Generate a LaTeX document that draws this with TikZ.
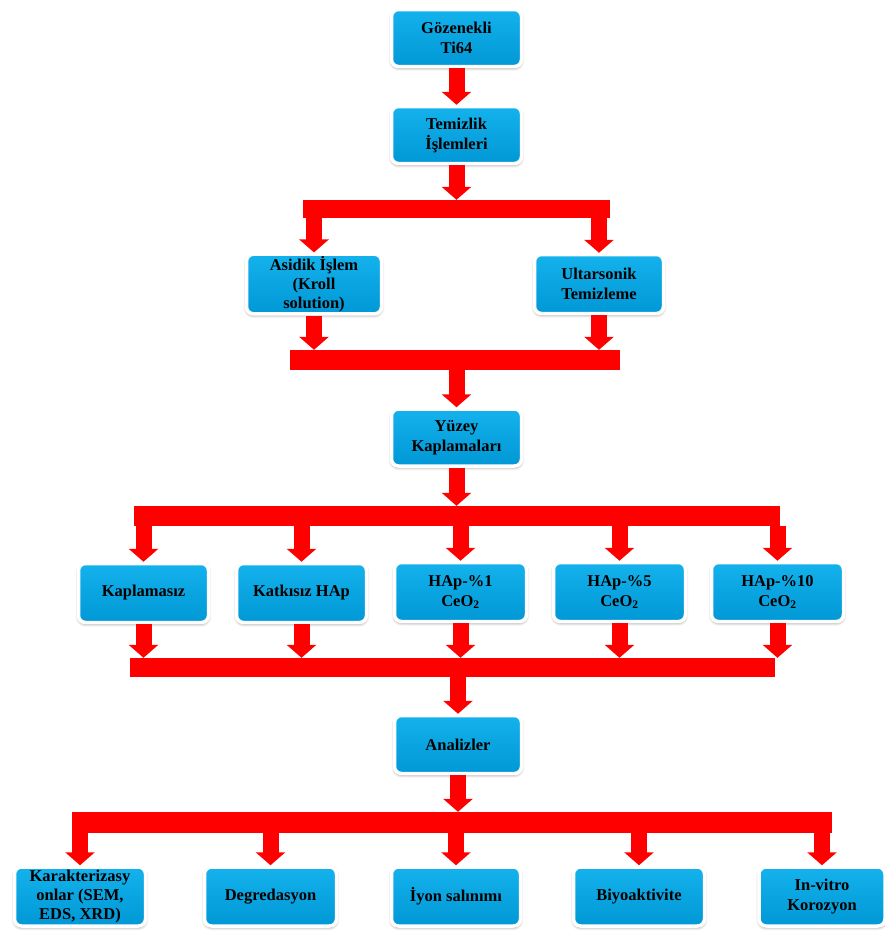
\documentclass[tikz,border=0pt]{standalone}
\usepackage{fontspec}
\setmainfont{Liberation Serif}
\usetikzlibrary{arrows.meta,shadows.blur}
\definecolor{boxtop}{RGB}{20,178,236}
\definecolor{boxbot}{RGB}{0,152,214}
\definecolor{barred}{RGB}{255,0,0}
\begin{document}
\begin{tikzpicture}[x=1pt,y=-1pt,
  box/.style={rectangle, rounded corners=7pt, draw=white, line width=3.5pt,
    top color=boxtop, bottom color=boxbot, align=center, inner sep=2pt,
    font=\bfseries\fontsize{16.5}{20}\selectfont, text=black,
    blur shadow={shadow blur steps=6, shadow xshift=0pt, shadow yshift=-1.5pt, shadow opacity=45, shadow blur radius=3pt},
    minimum height=57pt},
  bar/.style={rectangle, fill=barred, draw=none, inner sep=0pt},
  fat/.style={draw=barred, line width=16pt, line cap=butt,
    -{Triangle[width=29pt,length=13pt]}}
]
\useasboundingbox (0,0) rectangle (885,938);
% boxes
\node[box, minimum width=130pt] (g)   at (456.5,38)  {Gözenekli\\Ti64};
\node[box, minimum width=130pt] (t)   at (456.5,135) {Temizlik\\İşlemleri};
\node[box, minimum width=135pt, minimum height=59pt, font=\bfseries\fontsize{16.5}{19}\selectfont] (as)  at (314,284)   {Asidik İşlem\\(Kroll\\solution)};
\node[box, minimum width=129pt, minimum height=59pt] (ul)  at (599,284)   {Ultarsonik\\Temizleme};
\node[box, minimum width=130pt] (yz)  at (456.5,437.5) {Yüzey\\Kaplamaları};
\node[box, minimum width=130pt, minimum height=59pt] (kp)  at (143.5,593) {Kaplamasız};
\node[box, minimum width=130pt, minimum height=59pt] (kh)  at (301.5,593) {Katkısız HAp};
\node[box, minimum width=132pt, minimum height=59pt] (h1)  at (460.5,592) {HAp-\%1\\CeO\textsubscript{2}};
\node[box, minimum width=132pt, minimum height=59pt] (h5)  at (619.5,592) {HAp-\%5\\CeO\textsubscript{2}};
\node[box, minimum width=132pt, minimum height=59pt] (h10) at (777.5,592) {HAp-\%10\\CeO\textsubscript{2}};
\node[box, minimum width=127pt, minimum height=58pt] (an)  at (458,744.5) {Analizler};
\node[box, minimum width=131pt, minimum height=59pt, font=\bfseries\fontsize{16.5}{19}\selectfont] (ka)  at (80,896.5)  {Karakterizasy\\onlar (SEM,\\EDS, XRD)};
\node[box, minimum width=132pt, minimum height=59pt] (dg)  at (270.5,896.5) {Degredasyon};
\node[box, minimum width=129pt, minimum height=59pt] (iy)  at (456,896.5) {İyon salınımı};
\node[box, minimum width=131pt, minimum height=59pt] (bi)  at (639,896.5) {Biyoaktivite};
\node[box, minimum width=126pt, minimum height=59pt] (iv)  at (822,896.5) {In-vitro\\Korozyon};
% bars
\node[bar, minimum width=307pt, minimum height=18pt] (b1) at (456.5,209) {};
\node[bar, minimum width=330pt, minimum height=20pt] (b2) at (455,360) {};
\node[bar, minimum width=646pt, minimum height=20pt] (b3) at (457,516) {};
\node[bar, minimum width=645pt, minimum height=19pt] (b4) at (452.5,667.5) {};
\node[bar, minimum width=760pt, minimum height=21pt] (b5) at (452,822.5) {};
% connectors
\draw[fat] (g.south) -- (t.north);
\draw[fat] (t.south) -- (b1.north -| t.south);
\draw[fat] (b1.south -| as.north) -- (as.north);
\draw[fat] (b1.south -| ul.north) -- (ul.north);
\draw[fat] (as.south) -- (b2.north -| as.south);
\draw[fat] (ul.south) -- (b2.north -| ul.south);
\draw[fat] (b2.south -| yz.north) -- (yz.north);
\draw[fat] (yz.south) -- (b3.north -| yz.south);
\draw[fat] (b3.south -| kp.north) -- (kp.north);
\draw[fat] (b3.south -| kh.north) -- (kh.north);
\draw[fat] (b3.south -| h1.north) -- (h1.north);
\draw[fat] (b3.south -| h5.north) -- (h5.north);
\draw[fat] (b3.south -| h10.north) -- (h10.north);
\draw[fat] (kp.south) -- (b4.north -| kp.south);
\draw[fat] (kh.south) -- (b4.north -| kh.south);
\draw[fat] (h1.south) -- (b4.north -| h1.south);
\draw[fat] (h5.south) -- (b4.north -| h5.south);
\draw[fat] (h10.south) -- (b4.north -| h10.south);
\draw[fat] (b4.south -| an.north) -- (an.north);
\draw[fat] (an.south) -- (b5.north -| an.south);
\draw[fat] (b5.south -| ka.north) -- (ka.north);
\draw[fat] (b5.south -| dg.north) -- (dg.north);
\draw[fat] (b5.south -| iy.north) -- (iy.north);
\draw[fat] (b5.south -| bi.north) -- (bi.north);
\draw[fat] (b5.south -| iv.north) -- (iv.north);
\end{tikzpicture}
\end{document}
